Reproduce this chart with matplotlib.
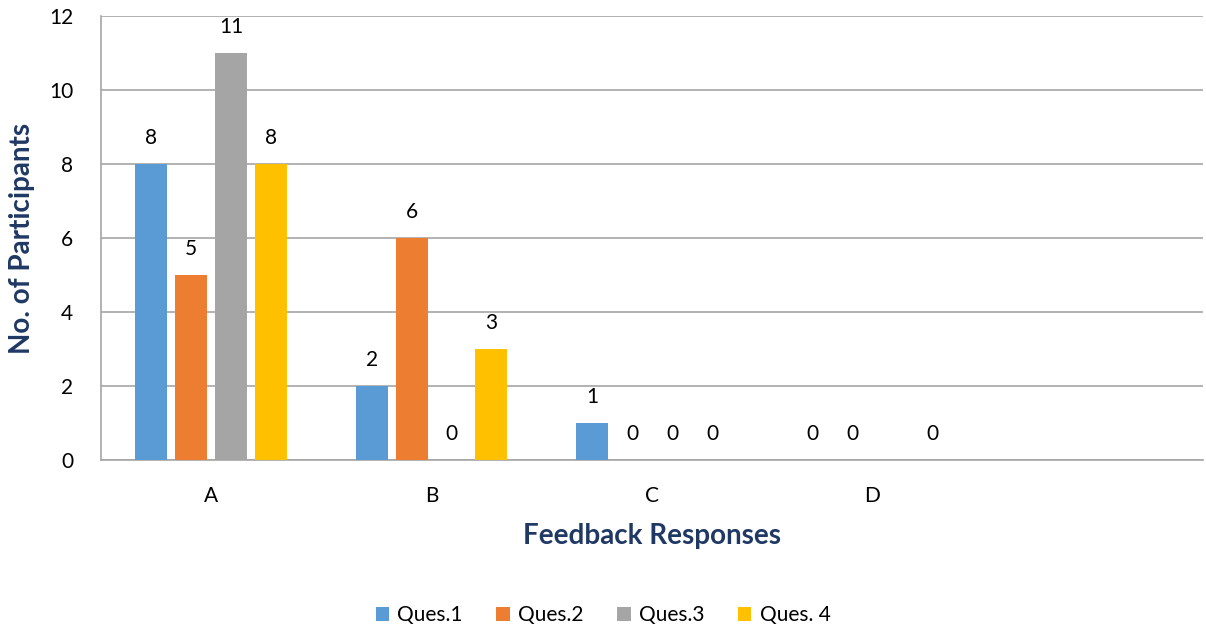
import matplotlib.pyplot as plt
import numpy as np

plt.rcParams['font.family'] = ['Lato', 'DejaVu Sans']

categories = ['A', 'B', 'C', 'D', '']
series = ['Ques.1', 'Ques.2', 'Ques.3', 'Ques. 4']
ques1 = [8, 2, 1, 0, np.nan]
ques2 = [5, 6, 0, 0, np.nan]
ques3 = [11, 0, 0, np.nan, np.nan]
ques4 = [8, 3, 0, 0, np.nan]
colors = ['#5B9BD5', '#ED7D31', '#A5A5A5', '#FFC000']

navy = '#1F3864'
grid_c = '#A6A6A6'

fig = plt.figure(figsize=(12.06, 6.33), dpi=100)
ax = fig.add_axes([0.0837, 0.2733, 0.914, 0.7014])

x = np.arange(len(categories))
step = 0.181
width = 0.145
for i, (vals, label, c) in enumerate(zip([ques1, ques2, ques3, ques4], series, colors)):
    pos = x + (i - 1.5) * step
    ax.bar(pos, vals, width, color=c, label=label, zorder=3)
    for xp, v in zip(pos, vals):
        if np.isnan(v):
            continue
        ax.annotate(f'{int(v)}', (xp, v), xytext=(0, 19), textcoords='offset points',
                    ha='center', va='center', fontsize=15, color='black')

ax.set_xlim(-0.5, len(categories) - 0.5)
ax.set_ylim(0, 12)
ax.set_yticks(np.arange(0, 13, 2))
ax.set_xticks(x)
ax.set_xticklabels(categories)
ax.tick_params(axis='both', length=0, labelsize=15)
ax.tick_params(axis='x', pad=19)
ax.tick_params(axis='y', pad=20)
ax.grid(axis='y', color=grid_c, linewidth=1.2, zorder=0)
for s in ['top', 'right']:
    ax.spines[s].set_visible(False)
ax.spines['left'].set_color(grid_c)
ax.spines['bottom'].set_color(grid_c)
ax.spines['left'].set_linewidth(1.2)
ax.spines['bottom'].set_linewidth(1.2)

ax.set_xlabel('Feedback Responses', fontsize=20, fontweight='bold', color=navy, labelpad=12)
ax.set_ylabel('No. of Participants', fontsize=20, fontweight='bold', color=navy, labelpad=10)

fig.legend(loc='center', bbox_to_anchor=(0.5, 0.028), ncol=4, frameon=False,
           fontsize=15, handlelength=0.65, handleheight=0.65, handletextpad=0.4,
           columnspacing=1.6)

fig.savefig('out.png', dpi=100)
